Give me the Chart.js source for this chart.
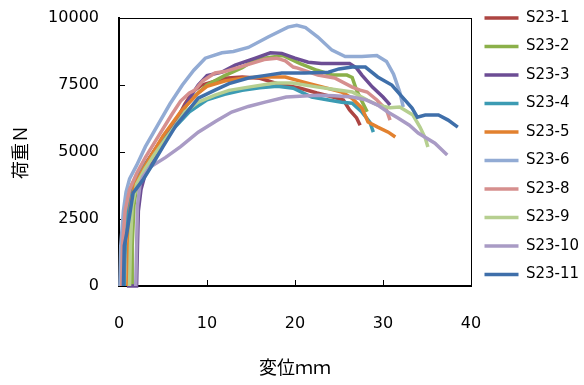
<!DOCTYPE html>
<html lang="ja">
<head>
<meta charset="UTF-8" />
<title>荷重-変位</title>
<style>
  body { margin: 0; background: #fff; }
  #wrap { width: 584px; height: 385px; position: relative; }
</style>
</head>
<body>
<div id="wrap"><canvas id="chart"></canvas></div>
<script src="https://cdn.jsdelivr.net/npm/chart.js"></script>
<script>
  // 試験体名と色
  const seriesNames = ['S23-1', 'S23-2', 'S23-3', 'S23-4', 'S23-5', 'S23-6', 'S23-8', 'S23-9', 'S23-10', 'S23-11'];
  const seriesColors = ['#ad4542', '#8bb04a', '#6c4d94', '#3c9bb3', '#e2812f', '#92abd4', '#d68f8e', '#b6cf90', '#a99bc5', '#3f6faa'];

  const xTicks = [0, 10, 20, 30, 40];
  const yTicks = [0, 2500, 5000, 7500, 10000];

  // [変位 mm, 荷重 N]
  const s23_1 = [[0.5,0],[0.6,1500],[0.9,3000],[1.5,3800],[2.2,4200],[3,4550],[4.5,5300],[6.4,6100],[7.5,6800],[8.4,7250],[9.4,7500],[11,7650],[12,7750],[14,7800],[16,7750],[18,7550],[20.6,7380],[22.5,7200],[24.3,7050],[25.5,6940],[26.2,6570],[27,6270],[27.4,6000]];
  const s23_2 = [[1.5,0],[1.5,1500],[1.7,3000],[2,3700],[3,4400],[4,4900],[6,5900],[8,6900],[10,7500],[12,7850],[14,8150],[15.5,8450],[17.5,8550],[18.6,8600],[20.6,8300],[22.5,8050],[24.3,7870],[25.9,7870],[26.5,7780],[27,7300],[27.7,6830],[28.2,6500]];
  const s23_3 = [[0.9,0],[2.0,0],[2.1,1500],[2.2,2800],[2.5,3600],[3,4200],[4,4800],[6,5900],[8,7000],[9,7500],[10,7850],[11.7,7980],[13.2,8240],[15.5,8500],[17.2,8700],[18.5,8680],[20,8500],[21.5,8350],[23,8300],[24.5,8300],[26.2,8300],[27,8130],[27.6,7870],[28.8,7420],[30,7050],[30.6,6830],[30.8,6750]];
  const s23_4 = [[0.6,0],[0.8,2500],[1.3,3600],[2.5,4300],[4,5000],[6,5800],[8,6500],[10,6950],[12,7150],[14,7300],[16,7400],[18,7450],[19.8,7380],[21.9,7050],[23.8,6940],[25.3,6860],[26.5,6820],[27.6,6490],[28.5,6120],[28.9,5740]];
  const s23_5 = [[1.0,0],[1.1,1500],[1.3,3000],[1.8,3800],[3,4500],[5,5600],[7,6500],[9,7200],[10,7450],[12,7650],[14,7750],[16,7800],[17.5,7800],[18.9,7800],[21.1,7600],[23.4,7400],[25.3,7240],[26.5,7000],[27.6,6640],[28.3,6120],[29.4,5930],[30.6,5740],[31.4,5560]];
  const s23_6 = [[0.1,0],[0.2,1500],[0.5,2800],[0.8,3500],[1.2,4000],[2,4500],[3,5200],[4.4,6000],[5.8,6800],[7.2,7500],[8.5,8050],[9.8,8500],[11.7,8700],[13,8750],[14.7,8900],[17,9300],[19.2,9660],[20.2,9730],[21.2,9640],[22.6,9290],[24.2,8800],[25.7,8560],[27.6,8560],[29.3,8600],[30.4,8380],[31.2,7900],[31.9,7240],[32.3,6680]];
  const s23_8 = [[0.3,0],[0.4,1500],[0.7,2800],[1.2,3600],[2,4200],[3,4800],[4.5,5600],[6,6400],[7,6900],[8,7200],[8.6,7300],[9.5,7650],[10.9,7950],[12,8000],[13.5,8150],[15,8300],[16.5,8450],[17.9,8500],[18.9,8400],[19.8,8170],[20.3,8130],[22.6,7870],[24.5,7760],[26.5,7420],[27.4,7310],[28.2,7240],[29.3,6940],[30.4,6570],[30.8,6190]];
  const s23_9 = [[1.2,0],[1.3,1500],[1.5,3000],[2,3800],[3,4400],[4,4900],[6,5800],[7.5,6500],[9,6860],[10.9,7120],[12.5,7300],[14.7,7420],[17.7,7570],[19.7,7570],[22.6,7420],[24.5,7330],[26.5,7240],[28.2,6940],[29.4,6750],[30.8,6650],[31.9,6680],[33.4,6380],[34.2,5930],[34.8,5520],[35.1,5190]];
  const s23_10 = [[1.9,0],[2.0,1500],[2.1,3000],[2.4,3800],[2.7,4070],[3.5,4430],[5.3,4800],[7,5200],[9,5740],[11,6150],[12.8,6490],[14.7,6700],[16.6,6860],[19,7050],[22.6,7120],[24.5,7100],[26.5,7050],[28,6950],[29.4,6750],[30.5,6500],[31.7,6270],[33,6000],[34,5710],[35.9,5330],[37.3,4890]];
  const s23_11 = [[0.5,0],[0.6,1500],[0.9,2000],[1.6,3470],[2.7,3950],[3.75,4500],[5,5200],[6.5,6000],[8,6600],[9,7010],[10.9,7310],[12.5,7550],[14.7,7760],[16.5,7850],[18.5,7950],[21.1,7950],[23.8,7980],[25,8100],[26.5,8170],[28,8170],[29.4,7800],[31,7500],[32.2,7050],[33.3,6640],[33.9,6300],[34.8,6380],[36.3,6380],[37.4,6190],[38.5,5930]];

  const seriesData = [s23_1, s23_2, s23_3, s23_4, s23_5, s23_6, s23_8, s23_9, s23_10, s23_11];

  const legendShift = {
    id: 'legendShift',
    afterLayout(chart) {
      chart.legend.top = -3; // 凡例を上に寄せる
    }
  };

  Chart.defaults.color = '#000';
  Chart.defaults.font.family = 'DejaVu Sans';

  // 上と右の枠線だけの軸
  const frameAxis = (pos) => ({
    type: 'linear',
    position: pos,
    display: true,
    grid: { display: false, drawTicks: false },
    ticks: { display: false },
    border: { display: true, color: '#000', width: 1 }
  });

  new Chart(document.getElementById('chart'), {
    type: 'line',
    data: {
      datasets: seriesNames.map((name, i) => ({
        label: name,
        data: seriesData[i].map(p => ({ x: p[0], y: p[1] })),
        borderColor: seriesColors[i],
        backgroundColor: seriesColors[i],
        borderWidth: 3.5,
        pointRadius: 0,
        tension: 0,
        clip: false,
        order: seriesNames.length - i
      }))
    },
    options: {
      responsive: true,
      maintainAspectRatio: false,
      animation: false,
      layout: { padding: { top: 18 } },
      plugins: {
        tooltip: { enabled: false },
        legend: {
          position: 'right',
          align: 'start',
          reverse: true,
          maxWidth: 113,
          labels: {
            usePointStyle: true,
            pointStyle: 'line',
            pointStyleWidth: 34,
            padding: 13.5,
            font: { size: 15 }
          }
        }
      },
      scales: {
        x: {
          type: 'linear',
          min: 0,
          max: 40,
          afterFit: s => { s.height = 99; s.paddingLeft = 0; s.paddingRight = 0; },
          afterBuildTicks: s => { s.ticks = xTicks.map(v => ({ value: v })); },
          // 目盛り線は内向き（負の長さ）
          grid: { display: true, drawOnChartArea: false, drawTicks: true, tickLength: -6, color: '#000', lineWidth: 1 },
          border: { display: true, color: '#000', width: 2 },
          ticks: { padding: 34, font: { size: 16 }, callback: v => String(v), maxRotation: 0 },
          title: {
            display: true,
            text: '変位ｍｍ',
            font: { family: 'Noto Sans CJK JP', size: 18 },
            padding: { bottom: 7 }
          }
        },
        y: {
          min: 0,
          max: 10000,
          afterFit: s => { s.width = 119; s.paddingTop = 0; s.paddingBottom = 0; },
          afterBuildTicks: s => { s.ticks = yTicks.map(v => ({ value: v })); },
          grid: { display: true, drawOnChartArea: false, drawTicks: true, tickLength: -6, color: '#000', lineWidth: 1 },
          border: { display: true, color: '#000', width: 2 },
          ticks: { padding: 26, font: { size: 16 }, callback: v => String(v) },
          title: {
            display: true,
            text: '荷重Ｎ',
            font: { family: 'Noto Sans CJK JP', size: 18 },
            padding: { top: 9 }
          }
        },
        x2: Object.assign(frameAxis('top'), { min: 0, max: 40 }),
        y2: Object.assign(frameAxis('right'), { min: 0, max: 10000 })
      }
    },
    plugins: [legendShift]
  });
</script>
</body>
</html>
